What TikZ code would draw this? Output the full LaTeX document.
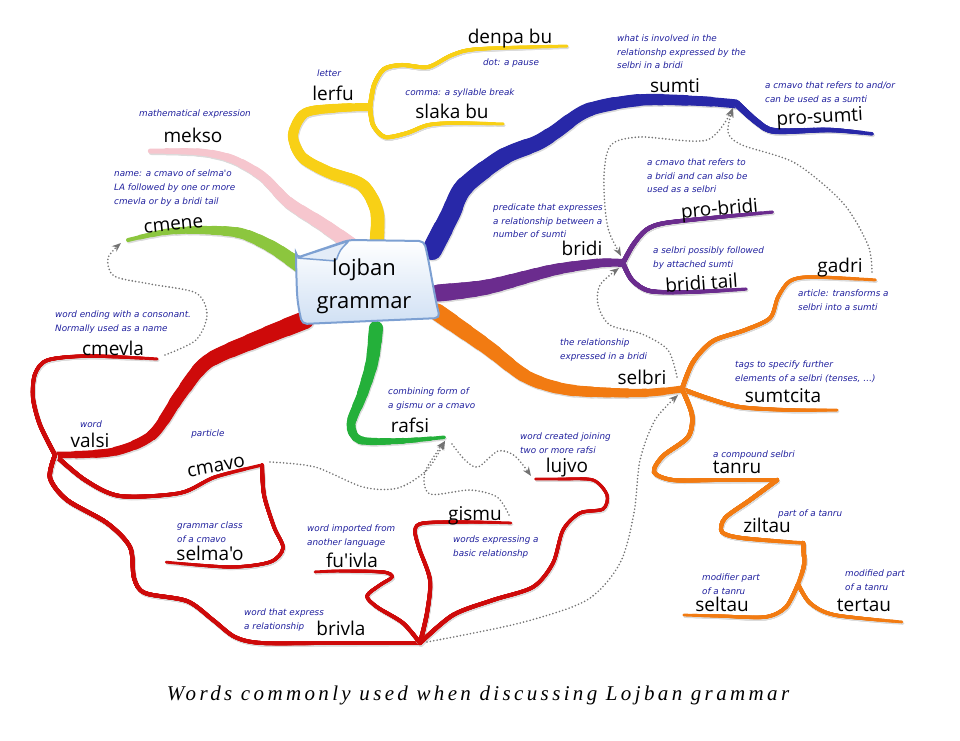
\documentclass[tikz,border=0pt]{standalone}
\usepackage{fontspec}
\usetikzlibrary{arrows.meta}
\newfontfamily\labelfont{Open Sans}
\newfontfamily\descfont{DejaVu Sans}
\newfontfamily\capfont[LetterSpace=16]{Liberation Serif}

\definecolor{lerfuyellow}{RGB}{248,208,22}
\definecolor{meksopink}{RGB}{246,198,206}
\definecolor{cmenelime}{RGB}{140,198,62}
\definecolor{valsired}{RGB}{206,10,10}
\definecolor{rafsigreen}{RGB}{36,176,58}
\definecolor{sumtiblue}{RGB}{40,40,168}
\definecolor{bridipurple}{RGB}{107,44,142}
\definecolor{selbriorange}{RGB}{242,123,18}
\definecolor{glossblue}{RGB}{32,32,158}
\definecolor{linkgray}{RGB}{115,115,115}
\definecolor{hubedge}{RGB}{125,160,210}
\definecolor{hubblue}{RGB}{208,224,244}

% colour, start width, end width, rough length, path
\newcommand\taperline[5]{%
  \foreach \k in {0,...,14}{
    \pgfmathsetmacro\bw{#3+(#2-#3)*\k/14}
    \pgfmathsetmacro\bl{#4*(1-\k/15)}
    \draw[black!14, line width=\bw pt, line cap=round,
      dash pattern=on \bl pt off 3000pt,
      transform canvas={shift={(0.9pt,-1.5pt)}}] #5;
  }
  \foreach \k in {0,...,14}{
    \pgfmathsetmacro\bw{#3+(#2-#3)*\k/14}
    \pgfmathsetmacro\bl{#4*(1-\k/15)}
    \draw[#1, line width=\bw pt, line cap=round,
      dash pattern=on \bl pt off 3000pt] #5;
  }}

\tikzset{
  word/.style={font=\labelfont\fontsize{19}{22}\selectfont, inner sep=0pt, anchor=base},
  gloss/.style={font=\descfont\itshape\fontsize{8.8}{13.7}\selectfont, text=glossblue,
    align=left, anchor=north west, inner sep=0pt},
  link/.style={draw=linkgray, line width=1.8pt, dash pattern=on 0pt off 3.4pt,
    line cap=round, -{Stealth[length=9pt,width=7pt]}}
}

\begin{document}
\begin{tikzpicture}[x=1pt, y=-1pt]
\fill[white] (0,0) rectangle (960,740);
\useasboundingbox (0,0) rectangle (960,740);

% junctions and branch ends
\coordinate (lerfuJ) at (370,107);
\coordinate (denpaE) at (568,46);
\coordinate (slakaE) at (505,124);
\coordinate (meksoE) at (150,151);
\coordinate (cmeneE) at (128,240);
\coordinate (valsiJ) at (55,455);
\coordinate (cmevlaE) at (158,359);
\coordinate (cmavoJ) at (262,465);
\coordinate (selmaoE) at (165,562);
\coordinate (brivlaJ) at (420,643);
\coordinate (fuivlaE) at (313,572);
\coordinate (gismuE) at (513,523);
\coordinate (lujvoE) at (533,479);
\coordinate (rafsiE) at (447,437);
\coordinate (sumtiJ) at (737,104);
\coordinate (prosumtiE) at (873,134);
\coordinate (bridiJ) at (623,263);
\coordinate (probridiE) at (773,212);
\coordinate (tailE) at (747,289);
\coordinate (selbriJ) at (682,389);
\coordinate (gadriE) at (877,280);
\coordinate (sumtcitaE) at (837,410);
\coordinate (tanruE) at (777,480);
\coordinate (ziltauJ) at (803,543);
\coordinate (ziltauK) at (798,584);
\coordinate (seltauE) at (683,615);
\coordinate (tertauE) at (903,622);

% yellow: lerfu
\taperline{lerfuyellow}{14}{8}{247}{plot[smooth] coordinates {(376,248) (377,212) (362,185) (328,172) (302,157) (293,135) (305,113) (338,108) (lerfuJ)}}
\taperline{lerfuyellow}{4.4}{3}{229}{plot[smooth] coordinates {(lerfuJ) (374,85) (384,69) (402,65) (428,67) (452,55) (478,49) (denpaE)}}
\taperline{lerfuyellow}{4.4}{3}{156}{plot[smooth] coordinates {(lerfuJ) (373,125) (385,137) (407,133) (428,125) (455,123) (slakaE)}}

% pink: mekso
\taperline{meksopink}{14}{5}{231}{plot[smooth] coordinates {(352,245) (322,224) (288,202) (262,176) (232,159) (200,152) (meksoE)}}

% lime: cmene
\taperline{cmenelime}{14}{4}{182}{plot[smooth] coordinates {(300,266) (272,247) (240,233) (200,230) (165,232) (cmeneE)}}

% red: valsi
\taperline{valsired}{18}{6.5}{299}{plot[smooth] coordinates {(305,320) (255,340) (207,362) (180,395) (152,435) (112,452) (valsiJ)}}
\taperline{valsired}{4.4}{3}{215}{plot[smooth] coordinates {(valsiJ) (40,425) (33,398) (35,374) (48,360) (90,356) (cmevlaE)}}
\taperline{valsired}{4.4}{3.2}{223}{plot[smooth] coordinates {(valsiJ) (85,480) (120,496) (180,493) (215,477) (cmavoJ)}}
\taperline{valsired}{4}{2.8}{211}{plot[smooth] coordinates {(cmavoJ) (264,495) (274,527) (283,548) (270,562) (230,567) (selmaoE)}}
\taperline{valsired}{4.4}{3.6}{470}{plot[smooth] coordinates {(valsiJ) (50,478) (67,500) (107,523) (130,547) (134,578) (145,593) (187,601) (213,620) (235,637) (262,643) (330,643) (brivlaJ)}}
\taperline{valsired}{4}{2.8}{183}{plot[smooth] coordinates {(brivlaJ) (403,623) (377,607) (367,596) (380,585) (392,577) (383,572) (340,571) (fuivlaE)}}
\taperline{valsired}{4.4}{2.8}{216}{plot[smooth] coordinates {(brivlaJ) (427,613) (430,580) (419,548) (415,530) (424,523) (470,522) (gismuE)}}
\taperline{valsired}{4.4}{2.8}{336}{plot[smooth] coordinates {(brivlaJ) (453,615) (493,600) (533,587) (553,563) (563,530) (580,513) (603,509) (607,495) (593,480) (560,479) (lujvoE)}}

% green: rafsi
\taperline{rafsigreen}{14}{3.6}{204}{plot[smooth] coordinates {(376,328) (372,362) (362,395) (351,424) (360,440) (400,441) (rafsiE)}}

% blue: sumti
\taperline{sumtiblue}{20}{9}{367}{plot[smooth] coordinates {(432,250) (450,215) (464,187) (503,157) (537,143) (555,132) (588,110) (640,100) (700,101) (sumtiJ)}}
\taperline{sumtiblue}{7}{3.6}{145}{plot[smooth] coordinates {(sumtiJ) (757,122) (775,131) (830,130) (prosumtiE)}}

% purple: bridi
\taperline{bridipurple}{17}{8}{188}{plot[smooth] coordinates {(438,293) (487,287) (553,270) (600,263) (bridiJ)}}
\taperline{bridipurple}{4.8}{3.2}{169}{plot[smooth] coordinates {(bridiJ) (633,245) (646,230) (665,223) (720,217) (probridiE)}}
\taperline{bridipurple}{4.8}{3.2}{137}{plot[smooth] coordinates {(bridiJ) (632,280) (650,291) (690,292) (tailE)}}

% orange: selbri
\taperline{selbriorange}{17}{7}{268}{plot[smooth] coordinates {(437,312) (487,347) (527,377) (570,390) (640,393) (selbriJ)}}
\taperline{selbriorange}{4.6}{3}{249}{plot[smooth] coordinates {(selbriJ) (693,362) (713,341) (745,330) (770,318) (778,297) (790,281) (812,277) (gadriE)}}
\taperline{selbriorange}{4.6}{3}{158}{plot[smooth] coordinates {(selbriJ) (707,398) (740,407) (790,410) (sumtcitaE)}}
\taperline{selbriorange}{4.6}{3.6}{224}{plot[smooth] coordinates {(selbriJ) (692,415) (688,437) (663,456) (654,472) (673,480) (720,480) (tanruE)}}
\taperline{selbriorange}{4.4}{3.6}{161}{plot[smooth] coordinates {(tanruE) (750,500) (725,518) (722,532) (742,538) (ziltauJ)}}
\taperline{selbriorange}{4.2}{4}{42}{plot[smooth] coordinates {(ziltauJ) (804,565) (ziltauK)}}
\taperline{selbriorange}{4}{2.8}{131}{plot[smooth] coordinates {(ziltauK) (786,607) (765,617) (720,616) (seltauE)}}
\taperline{selbriorange}{4}{2.8}{118}{plot[smooth] coordinates {(ziltauK) (810,603) (835,615) (tertauE)}}

% central box
\shadedraw[draw=hubedge, line width=2pt, top color=white, bottom color=hubblue, rounded corners=5pt]
  (296,258) -- (349,240) -- (424,241) .. controls (430,265) and (434,295) .. (440,318)
  -- (302,324) .. controls (297,300) .. (296,258) -- cycle;
\filldraw[draw=hubedge, line width=1.5pt, fill=hubblue!60, rounded corners=2pt]
  (297,258) -- (336,261) .. controls (340,250) .. (349,241) -- cycle;
\node[font=\labelfont\fontsize{22}{33}\selectfont, align=center, inner sep=0pt] (hub) at (364,286) {lojban\\grammar};

% cross links
\coordinate (cmevlaL) at (165,355);
\coordinate (cmeneA) at (121,243);
\coordinate (cmavoL) at (270,462);
\coordinate (rafsiA) at (445,441);
\coordinate (gismuL) at (509,515);
\coordinate (rafsiL) at (452,444);
\coordinate (lujvoA) at (531,476);
\coordinate (brivlaL) at (427,642);
\coordinate (selbriA) at (678,395);
\coordinate (selbriL) at (677,377);
\coordinate (bridiA) at (619,268);
\coordinate (bridiB) at (621,256);
\coordinate (sumtiA) at (733,108);
\coordinate (gadriL) at (872,272);
\draw[link] plot[smooth] coordinates {(cmevlaL) (196,340) (207,315) (196,293) (150,284) (114,276) (108,258) (cmeneA)};
\draw[link] plot[smooth] coordinates {(cmavoL) (315,467) (363,487) (398,488) (427,470) (rafsiA)};
\draw[link] plot[smooth] coordinates {(gismuL) (497,497) (470,490) (430,494) (425,472) (rafsiA)};
\draw[link] plot[smooth] coordinates {(rafsiL) (465,460) (478,467) (498,451) (515,456) (lujvoA)};
\draw[link] plot[smooth] coordinates {(brivlaL) (520,623) (587,600) (620,563) (634,513) (640,460) (655,420) (selbriA)};
\draw[link] plot[smooth] coordinates {(selbriL) (668,350) (642,334) (610,325) (598,305) (600,285) (bridiA)};
\draw[link, {Stealth[length=9pt,width=7pt]}-{Stealth[length=9pt,width=7pt]}] plot[smooth] coordinates {(bridiB) (607,223) (604,175) (611,145) (640,137) (707,140) (sumtiA)};
\draw[link] plot[smooth] coordinates {(gadriL) (868,245) (843,203) (795,163) (742,145) (728,132) (sumtiA)};

% words
\node[word] (lerfu) at (333,100) {lerfu};
\node[word] (denpa) at (510,43) {denpa bu};
\node[word] (slaka) at (452,118) {slaka bu};
\node[word] (mekso) at (193,142) {mekso};
\node[word, rotate=6] (cmene) at (174,230) {cmene};
\node[word] (cmevla) at (113,355) {cmevla};
\node[word] (valsi) at (90,447) {valsi};
\node[word, rotate=10] (cmavo) at (217,472) {cmavo};
\node[word] (selmao) at (210,560) {selma'o};
\node[word] (fuivla) at (352,567) {fu'ivla};
\node[word] (brivla) at (341,635) {brivla};
\node[word] (gismu) at (475,520) {gismu};
\node[word] (lujvo) at (567,472) {lujvo};
\node[word] (rafsi) at (410,432) {rafsi};
\node[word] (sumti) at (675,92) {sumti};
\node[word, rotate=3] (prosumti) at (820,123) {pro-sumti};
\node[word] (bridi) at (582,255) {bridi};
\node[word, rotate=5] (probridi) at (720,215) {pro-bridi};
\node[word, rotate=4] (tail) at (702,290) {bridi tail};
\node[word] (selbri) at (642,384) {selbri};
\node[word] (gadri) at (840,272) {gadri};
\node[word] (sumtcita) at (783,402) {sumtcita};
\node[word] (tanru) at (737,473) {tanru};
\node[word] (ziltau) at (767,532) {ziltau};
\node[word] (seltau) at (722,611) {seltau};
\node[word] (tertau) at (864,611) {tertau};

% glosses
\node[gloss, anchor=base] (lerfuD) at (329,76) {letter};
\node[gloss, anchor=base] (denpaD) at (511,65) {dot: a pause};
\node[gloss, anchor=base] (slakaD) at (460,95) {comma: a syllable break};
\node[gloss, anchor=base] (meksoD) at (195,116) {mathematical expression};
\node[gloss] (cmeneD) at (114,170) {name: a cmavo of selma'o\\LA followed by one or more\\cmevla or by a bridi tail};
\node[gloss] (cmevlaD) at (55,310.5) {word ending with a consonant.\\Normally used as a name};
\node[gloss, anchor=base] (valsiD) at (91,427) {word};
\node[gloss, anchor=base] (cmavoD) at (208,436) {particle};
\node[gloss] (selmaoD) at (177,521.5) {grammar class\\of a cmavo};
\node[gloss] (fuivlaD) at (307,524.5) {word imported from\\another language};
\node[gloss] (brivlaD) at (244,608.5) {word that express\\a relationship};
\node[gloss] (gismuD) at (453,535.5) {words expressing a\\basic relationshp};
\node[gloss] (lujvoD) at (520,432.5) {word created joining\\two or more rafsi};
\node[gloss] (rafsiD) at (388,387.5) {combining form of\\a gismu or a cmavo};
\node[gloss] (sumtiD) at (617,34.5) {what is involved in the\\relationshp expressed by the\\selbri in a bridi};
\node[gloss] (prosumtiD) at (765,81.5) {a cmavo that refers to and/or\\can be used as a sumti};
\node[gloss] (bridiD) at (493,203.5) {predicate that expresses\\a relationship between a\\number of sumti};
\node[gloss] (probridiD) at (647,158.5) {a cmavo that refers to\\a bridi and can also be\\used as a selbri};
\node[gloss] (tailD) at (653,246.5) {a selbri possibly followed\\by attached sumti};
\node[gloss] (selbriD) at (560,338.5) {the relationship\\expressed in a bridi};
\node[gloss] (gadriD) at (798,289.5) {article: transforms a\\selbri into a sumti};
\node[gloss] (sumtcitaD) at (735,360.5) {tags to specify further\\elements of a selbri (tenses, \dots)};
\node[gloss, anchor=base west] (tanruD) at (713,457) {a compound selbri};
\node[gloss, anchor=base west] (ziltauD) at (778,516) {part of a tanru};
\node[gloss] (seltauD) at (702,573.5) {modifier part\\of a tanru};
\node[gloss] (tertauD) at (845,569.5) {modified part\\of a tanru};

% caption
\node[font=\capfont\itshape\fontsize{21}{24}\selectfont, anchor=base, inner sep=0pt] (caption) at (478,700) {Words commonly used when discussing Lojban grammar};
\end{tikzpicture}
\end{document}
